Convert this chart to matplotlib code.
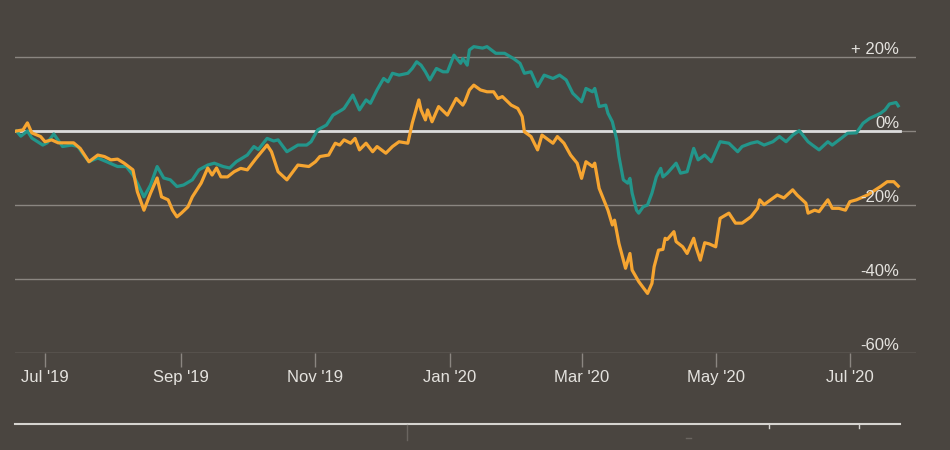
import matplotlib
matplotlib.use("Agg")
import matplotlib.pyplot as plt
import matplotlib.dates as mdates
import matplotlib.transforms as mtransforms
from matplotlib.lines import Line2D
import pandas as pd

plt.rcParams['font.family'] = ['Liberation Sans', 'DejaVu Sans']

############################################################
# data: % change since mid June 2019
############################################################
teal_dates = ['2019-06-18', '2019-06-20', '2019-06-23', '2019-06-25', '2019-06-30',
              '2019-07-02', '2019-07-05', '2019-07-09', '2019-07-13', '2019-07-16', '2019-07-18',
              '2019-07-21', '2019-07-25', '2019-07-29',
              '2019-08-03', '2019-08-07', '2019-08-10', '2019-08-12', '2019-08-15', '2019-08-18',
              '2019-08-21', '2019-08-24', '2019-08-27', '2019-08-30',
              '2019-09-02', '2019-09-06', '2019-09-09', '2019-09-13', '2019-09-16', '2019-09-20',
              '2019-09-23', '2019-09-26',
              '2019-10-01', '2019-10-04', '2019-10-06', '2019-10-10', '2019-10-13', '2019-10-15',
              '2019-10-19', '2019-10-24', '2019-10-28', '2019-10-30',
              '2019-11-02', '2019-11-06', '2019-11-09', '2019-11-13', '2019-11-14', '2019-11-18',
              '2019-11-21', '2019-11-24', '2019-11-26', '2019-11-29',
              '2019-12-02', '2019-12-04', '2019-12-06', '2019-12-09', '2019-12-13', '2019-12-15',
              '2019-12-17', '2019-12-19', '2019-12-21', '2019-12-23', '2019-12-26', '2019-12-29',
              '2019-12-31',
              '2020-01-03', '2020-01-06', '2020-01-07', '2020-01-09', '2020-01-10', '2020-01-12',
              '2020-01-16', '2020-01-18', '2020-01-22', '2020-01-26', '2020-01-30',
              '2020-02-02', '2020-02-04', '2020-02-07', '2020-02-10', '2020-02-13', '2020-02-17',
              '2020-02-20', '2020-02-23', '2020-02-26',
              '2020-03-01', '2020-03-03', '2020-03-06', '2020-03-07', '2020-03-09', '2020-03-12',
              '2020-03-13', '2020-03-15', '2020-03-17', '2020-03-18', '2020-03-20', '2020-03-22',
              '2020-03-23', '2020-03-24', '2020-03-26', '2020-03-27', '2020-03-29', '2020-03-31',
              '2020-04-02', '2020-04-04', '2020-04-06', '2020-04-07', '2020-04-09', '2020-04-13',
              '2020-04-15', '2020-04-18', '2020-04-21', '2020-04-23', '2020-04-26', '2020-04-29',
              '2020-05-03', '2020-05-07', '2020-05-11', '2020-05-13', '2020-05-17', '2020-05-20',
              '2020-05-23', '2020-05-27', '2020-05-30',
              '2020-06-02', '2020-06-05', '2020-06-08', '2020-06-12', '2020-06-14', '2020-06-17',
              '2020-06-21', '2020-06-23', '2020-06-27', '2020-06-30',
              '2020-07-04', '2020-07-07', '2020-07-10', '2020-07-15', '2020-07-17', '2020-07-19',
              '2020-07-22', '2020-07-23']
teal_vals = [0, -1.4, 0, -1.9, -3.8,
             -3.2, -0.8, -4.2, -3.8, -4.2, -6, -8.3, -7.3, -8.3,
             -9.6, -9.6, -11.9, -14.1, -17.8, -14.6, -9.6, -12.7, -13.2, -15,
             -14.6, -13.2, -10.5, -9.2, -8.7, -9.6, -10, -8.3,
             -6.5, -4.2, -5, -2, -2.7, -2.4, -5.6, -3.8, -3.8, -2.9,
             0.3, 1.6, 4.3, 5.7, 6.1, 9.7, 5.7, 8.4, 7.5, 11.1,
             14.2, 13.3, 15.6, 15.1, 15.6, 16.9, 18.7, 17.8, 16, 13.8, 16.9, 16, 16,
             20.5, 18.3, 19.6, 17.8, 21.9, 22.8, 22.4, 22.8, 21, 21, 19.6,
             18.3, 15.6, 16, 12, 15.1, 14.2, 15.1, 13.8, 10.2,
             7.9, 11.5, 10.6, 11.5, 6.6, 7, 4.8, 2.5, -2.4, -6.9, -13.2, -14.1,
             -12.8, -16.8, -21.4, -22.2, -20.5, -20,
             -16.8, -12.4, -10.1, -12.4, -11.4, -8.7, -11.4, -11, -4.7, -7.8, -6.5, -8.3,
             -2.9, -3.3, -5.6, -4.2, -3.3, -2.9, -3.8, -2.9, -1.5,
             -2.9, -1.1, 0.1, -2.9, -3.8, -5.1, -2.9, -3.8, -2, -0.6,
             -0.5, 2.1, 3.4, 4.8, 5.7, 7.3, 7.7, 6.8]

orange_dates = ['2019-06-18', '2019-06-21', '2019-06-23', '2019-06-25', '2019-06-29',
                '2019-07-01', '2019-07-04', '2019-07-07', '2019-07-10', '2019-07-14', '2019-07-17',
                '2019-07-21', '2019-07-25', '2019-07-28', '2019-07-31',
                '2019-08-03', '2019-08-06', '2019-08-10', '2019-08-12', '2019-08-15', '2019-08-18',
                '2019-08-21', '2019-08-23', '2019-08-26', '2019-08-28', '2019-08-30',
                '2019-09-01', '2019-09-04', '2019-09-06', '2019-09-10', '2019-09-13', '2019-09-15',
                '2019-09-17', '2019-09-19', '2019-09-22', '2019-09-25', '2019-09-28',
                '2019-10-01', '2019-10-05', '2019-10-10', '2019-10-12', '2019-10-15', '2019-10-19',
                '2019-10-24', '2019-10-29',
                '2019-11-01', '2019-11-03', '2019-11-07', '2019-11-10', '2019-11-12', '2019-11-14',
                '2019-11-17', '2019-11-19', '2019-11-21', '2019-11-24', '2019-11-27', '2019-11-29',
                '2019-12-03', '2019-12-06', '2019-12-09', '2019-12-13', '2019-12-15', '2019-12-18',
                '2019-12-19', '2019-12-21', '2019-12-22', '2019-12-24', '2019-12-27', '2019-12-31',
                '2020-01-04', '2020-01-07', '2020-01-08', '2020-01-10', '2020-01-12', '2020-01-15',
                '2020-01-18', '2020-01-21', '2020-01-23', '2020-01-25', '2020-01-29',
                '2020-02-01', '2020-02-03', '2020-02-04', '2020-02-07', '2020-02-10', '2020-02-12',
                '2020-02-17', '2020-02-19', '2020-02-22', '2020-02-25', '2020-02-28',
                '2020-03-01', '2020-03-03', '2020-03-06', '2020-03-07', '2020-03-09', '2020-03-13',
                '2020-03-15', '2020-03-16', '2020-03-18', '2020-03-21', '2020-03-23', '2020-03-24',
                '2020-03-27', '2020-03-31',
                '2020-04-02', '2020-04-03', '2020-04-05', '2020-04-07', '2020-04-08', '2020-04-09',
                '2020-04-12', '2020-04-13', '2020-04-16', '2020-04-18', '2020-04-21', '2020-04-22',
                '2020-04-24', '2020-04-26', '2020-04-28',
                '2020-05-01', '2020-05-03', '2020-05-07', '2020-05-10', '2020-05-13', '2020-05-17',
                '2020-05-20', '2020-05-21', '2020-05-23', '2020-05-26', '2020-05-29',
                '2020-06-01', '2020-06-05', '2020-06-07', '2020-06-11', '2020-06-12', '2020-06-15',
                '2020-06-17', '2020-06-21', '2020-06-23', '2020-06-26', '2020-06-29',
                '2020-07-01', '2020-07-04', '2020-07-09', '2020-07-15', '2020-07-18', '2020-07-21',
                '2020-07-23']
orange_vals = [0, 0.3, 2.2, -0.5, -1.5,
               -2.9, -2.4, -3.2, -3.2, -3.2, -4.7, -8.3, -6.5, -6.9, -7.8,
               -7.6, -8.7, -10.5, -16.4, -21.4, -16.8, -12.7, -17.8, -18.6, -21.4, -23.2,
               -22.2, -20.5, -17.8, -14.1, -10, -11.9, -10, -12.4, -12.4, -11, -10.1,
               -10.5, -7.4, -3.8, -5.6, -11, -13.2, -9.2, -9.6,
               -8.3, -6.9, -6.5, -3.3, -3.8, -2.4, -3.3, -2, -5.1, -3.3, -5.6, -4.2,
               -6, -4.2, -2.9, -3.3, 2.1, 8.4, 5.7, 3, 5.7, 2.5, 6.6, 4.3,
               8.8, 7, 8, 11.1, 12.4, 11.1, 10.6, 10.6, 8.8, 9.3, 7,
               6.1, 3.9, -0.2, -1.5, -5.1, -1.1, -3.3, -1.5, -3.3, -6.5, -8.7,
               -12.8, -8.3, -9.6, -8.7, -15.5, -21.4, -25.4, -24.1, -30.4, -37.1, -33.1, -37.6,
               -40.7, -43.9,
               -41.2, -36.7, -32.2, -32, -29, -29.3, -27.2, -29.9, -31.3, -33.1, -29, -31.3,
               -34.9, -30.2, -30.5,
               -31.3, -23.6, -22.2, -24.9, -24.9, -23.2, -20.9, -18.6, -19.9, -18.6, -17.3,
               -18.1, -15.9, -17.3, -19.5, -22.2, -21.4, -21.8, -18.6, -20.9, -20.9, -21.4,
               -19.1, -18.6, -17.3, -15, -13.7, -13.7, -14.9]

tick_dates = ['2019-07-01', '2019-09-01', '2019-11-01', '2020-01-01',
              '2020-03-01', '2020-05-01', '2020-07-01']
y_ticks = [20, 0, -20, -40, -60]
y_labels = ['+ 20%', '0%', '-20%', '-40%', '-60%']

############################################################
# style
############################################################
bg = '#4a4540'
grid_col = '#8b8681'
text_col = '#e4e2de'
teal = '#23968b'
orange = '#f6a531'

W, H = 950, 450
fig = plt.figure(figsize=(W / 100, H / 100), dpi=100, facecolor=bg)
ax = fig.add_axes([15 / W, 1 - 353 / H, 901 / W, 333 / H])
ax.set_facecolor(bg)
for sp in ax.spines.values():
    sp.set_visible(False)

ax.set_ylim(-60, 30)
ax.set_xlim(pd.Timestamp('2019-06-17 08:40'), pd.Timestamp('2020-07-31 02:00'))

for v in y_ticks:
    ax.axhline(v, color=grid_col, lw=1, zorder=1)
ax.axhline(0, xmin=0, xmax=885 / 901, color='#dcdcdc', lw=2, zorder=2)

ax.plot(pd.to_datetime(teal_dates), teal_vals, color=teal, lw=2.3, zorder=3,
        solid_joinstyle='round')
ax.plot(pd.to_datetime(orange_dates), orange_vals, color=orange, lw=2.3, zorder=4,
        solid_joinstyle='round')

# y labels sit just above their grid line, inside the plot
trans = mtransforms.blended_transform_factory(ax.transAxes, ax.transData)
trans = mtransforms.offset_copy(trans, fig=fig, y=3, units='dots')
for v, lab in zip(y_ticks, y_labels):
    ax.text(884 / 901, v, lab, transform=trans, ha='right', va='baseline',
            color=text_col, fontsize=12, zorder=5)
ax.tick_params(axis='y', left=False, labelleft=False)

ax.set_xticks(pd.to_datetime(tick_dates))
ax.xaxis.set_major_formatter(mdates.DateFormatter("%b '%y"))
ax.tick_params(axis='x', direction='out', length=10, width=1, color=grid_col,
               labelcolor=text_col, labelsize=12, pad=2)

# navigator remnants at the bottom
fig.add_artist(Line2D([15 / W, 900 / W], [1 - 424 / H] * 2, color='#d6d4d0', lw=1.5))
fig.add_artist(Line2D([407 / W] * 2, [1 - 425 / H, 1 - 440 / H], color='#6a6560', lw=1))
for xp in [769, 859]:
    fig.add_artist(Line2D([xp / W] * 2, [1 - 424 / H, 1 - 428 / H], color='#d6d4d0', lw=1))
fig.add_artist(Line2D([686 / W, 691 / W], [1 - 438 / H] * 2, color='#6a6560', lw=1))

fig.savefig('out.png', dpi=100, facecolor=bg)
